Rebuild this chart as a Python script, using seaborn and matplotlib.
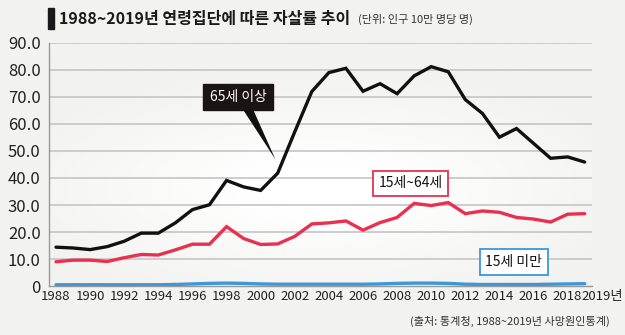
import numpy as np
import pandas as pd
import matplotlib
matplotlib.use("Agg")
import matplotlib.pyplot as plt
import seaborn as sns
from matplotlib.colors import LinearSegmentedColormap
from matplotlib import font_manager

years = list(range(1988, 2020))
over65 = [14.4, 14.1, 13.5, 14.6, 16.6, 19.6, 19.6, 23.4, 28.3, 30.1, 39.1, 36.7,
          35.4, 41.8, 57.1, 72.0, 79.0, 80.6, 72.1, 74.9, 71.2, 77.8, 81.2, 79.3,
          69.0, 63.9, 55.1, 58.3, 52.8, 47.3, 47.8, 45.9]
age15_64 = [9.0, 9.6, 9.6, 9.1, 10.5, 11.7, 11.5, 13.4, 15.5, 15.5, 22.0, 17.6,
            15.4, 15.6, 18.4, 23.0, 23.4, 24.1, 20.7, 23.5, 25.4, 30.6, 29.8, 30.9,
            26.8, 27.8, 27.3, 25.4, 24.8, 23.7, 26.6, 26.8]
under15 = [0.5, 0.5, 0.5, 0.5, 0.5, 0.5, 0.5, 0.6, 0.8, 1.0, 1.1, 1.0,
           0.8, 0.7, 0.7, 0.7, 0.7, 0.7, 0.7, 0.8, 1.0, 1.1, 1.1, 1.0,
           0.7, 0.6, 0.6, 0.6, 0.6, 0.7, 0.8, 0.9]
series_names = ["65세 이상", "15세~64세", "15세 미만"]
yticks = [0, 10, 20, 30, 40, 50, 60, 70, 80, 90]
ytick_labels = ["0", "10.0", "20.0", "30.0", "40.0", "50.0", "60.0", "70.0", "80.0", "90.0"]
xticks = list(range(1988, 2019, 2)) + [2019]
xtick_labels = [str(y) for y in range(1988, 2019, 2)] + ["2019년"]

df = pd.DataFrame({
    "year": years * 3,
    "value": over65 + age15_64 + under15,
    "group": [series_names[0]] * 32 + [series_names[1]] * 32 + [series_names[2]] * 32,
})

sns.set_theme(style="white")
plt.rcParams['font.family'] = ['Noto Sans CJK KR', 'DejaVu Sans']

names = {f.name for f in font_manager.fontManager.ttflist}
narrow = "Liberation Sans Narrow" if "Liberation Sans Narrow" in names else "Noto Sans CJK KR"
tick_family = [narrow, 'Noto Sans CJK KR', 'DejaVu Sans']

bg = "#f2f2f0"
fig = plt.figure(figsize=(6.25, 3.35), dpi=100, facecolor=bg)
ax = fig.add_axes([0.0784, 0.146, 0.947 - 0.0784, 0.872 - 0.146])
ax.set_facecolor(bg)

# soft white glow in plot area
gx, gy = np.meshgrid(np.linspace(-1, 1, 200), np.linspace(-1, 1, 100))
glow = np.clip(1 - np.sqrt((gx * 0.8) ** 2 + ((gy + 0.2) * 1.0) ** 2), 0, 1)
cmap = LinearSegmentedColormap.from_list("g", [bg, "#ffffff"])
ax.imshow(glow, extent=[1987.59, 2019.42, 0, 90], aspect="auto", cmap=cmap,
          zorder=0, origin="lower", vmin=0, vmax=0.8)

for y in yticks[1:]:
    ax.axhline(y, color="#c9c9c9", lw=1.3, zorder=1)

palette = {series_names[0]: "#111111", series_names[1]: "#e8314f", series_names[2]: "#3d97d8"}
sns.lineplot(data=df, x="year", y="value", hue="group", palette=palette,
             linewidth=2.4, legend=False, ax=ax, zorder=3)
for line in ax.lines:
    line.set_solid_joinstyle("miter")

ax.set_xlim(1987.59, 2019.42)
ax.set_ylim(0, 90)
ax.set_xticks(xticks)
ax.set_xticklabels(xtick_labels[:-1] + [""], fontsize=9.5, color="#222222", family=tick_family)
# last label starts at the 2019 tick
ax.annotate(xtick_labels[-1], xy=(xticks[-1], 0), xycoords=("data", "axes fraction"),
            xytext=(-3, -4), textcoords="offset pixels", ha="left", va="top",
            fontsize=9.5, color="#222222", family=tick_family, annotation_clip=False)
ax.set_xticks(years, minor=True)
ax.set_yticks(yticks)
ax.set_yticklabels(ytick_labels, fontsize=12, color="#222222", family=tick_family)
ax.tick_params(axis="x", which="both", direction="in", length=3, color="#888888", pad=3)
ax.tick_params(axis="y", length=0, pad=6)
ax.set_xlabel("")
ax.set_ylabel("")
for s in ["top", "right"]:
    ax.spines[s].set_visible(False)
for s in ["left", "bottom"]:
    ax.spines[s].set_color("#999999")
    ax.spines[s].set_linewidth(1.0)

# annotations
ax.annotate("", xy=(2000.95, 45.9), xytext=(1999.0, 68.5),
            arrowprops=dict(arrowstyle="wedge,tail_width=0.6", color="#111111", lw=0), zorder=4)
ax.text(1998.67, 70.0, series_names[0], ha="center", va="center", fontsize=10,
        color="white", zorder=5,
        bbox=dict(boxstyle="square,pad=0.45", fc="#1a1414", ec="#1a1414"))
ax.text(2008.8, 38.1, series_names[1], ha="center", va="center", fontsize=10,
        color="#111111", zorder=5,
        bbox=dict(boxstyle="square,pad=0.4", fc="white", ec="#e8314f", lw=1.3))
ax.text(2014.85, 8.9, series_names[2], ha="center", va="center", fontsize=10,
        color="#111111", zorder=5,
        bbox=dict(boxstyle="square,pad=0.4", fc="white", ec="#3d97d8", lw=1.3))

# title
fig.patches.append(matplotlib.patches.Rectangle((48 / 625, 1 - 29 / 335), 6 / 625, 21 / 335,
                                                transform=fig.transFigure, color="#1a1a1a"))
fig.text(59 / 625, 1 - 19 / 335, "1988~2019년 연령집단에 따른 자살률 추이", fontsize=11.5,
         fontweight="bold", va="center", ha="left", color="#1a1a1a")
fig.text(358 / 625, 1 - 19 / 335, "(단위: 인구 10만 명당 명)", fontsize=8,
         va="center", ha="left", color="#333333")
fig.text(610 / 625, 1 - 321 / 335, "(출처: 통계청, 1988~2019년 사망원인통계)", fontsize=8,
         va="center", ha="right", color="#333333")

fig.savefig("out.png", dpi=100, facecolor=bg)
